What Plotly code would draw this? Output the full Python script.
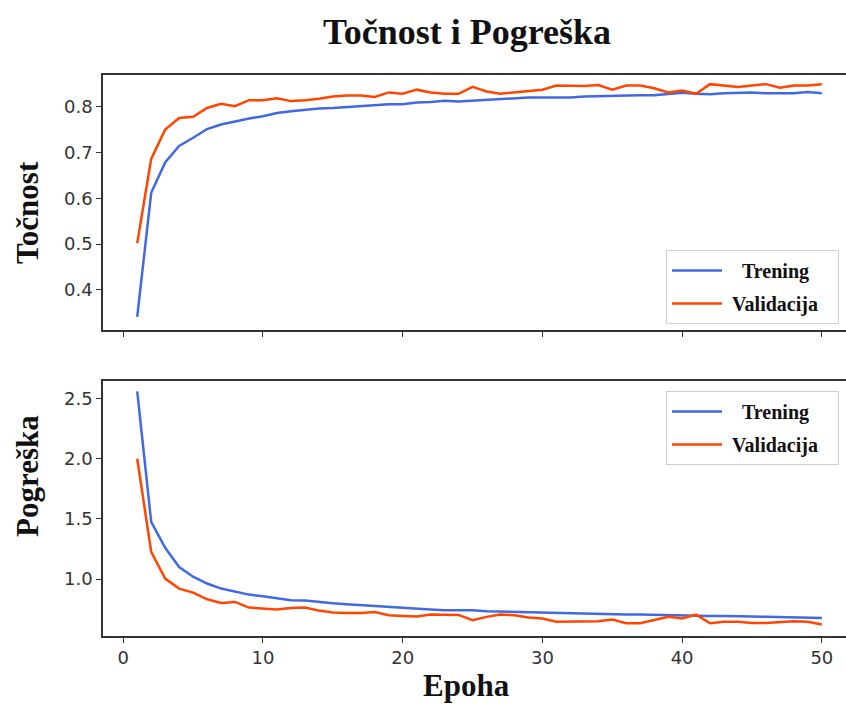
import plotly.graph_objects as go

# epochs on the x axis
epochs = list(range(1, 51))

# accuracy (Točnost)
train_acc = [0.341, 0.612, 0.678, 0.714, 0.732, 0.751, 0.761, 0.768, 0.774, 0.779,
             0.786, 0.790, 0.793, 0.796, 0.797, 0.799, 0.802, 0.804, 0.805, 0.805,
             0.809, 0.810, 0.813, 0.811, 0.813, 0.815, 0.816, 0.818, 0.820, 0.820,
             0.820, 0.820, 0.822, 0.823, 0.824, 0.825, 0.825, 0.825, 0.828, 0.830,
             0.828, 0.827, 0.829, 0.830, 0.831, 0.829, 0.829, 0.829, 0.832, 0.829]
val_acc = [0.502, 0.686, 0.750, 0.775, 0.778, 0.797, 0.806, 0.801, 0.814, 0.814,
           0.818, 0.812, 0.814, 0.817, 0.822, 0.824, 0.824, 0.821, 0.831, 0.828,
           0.837, 0.831, 0.828, 0.828, 0.843, 0.833, 0.828, 0.831, 0.835, 0.837,
           0.846, 0.845, 0.845, 0.847, 0.837, 0.846, 0.846, 0.840, 0.831, 0.835,
           0.828, 0.849, 0.846, 0.843, 0.846, 0.849, 0.841, 0.846, 0.846, 0.849]

# loss (Pogreška)
train_loss = [2.56, 1.475, 1.26, 1.10, 1.02, 0.963, 0.921, 0.893, 0.871, 0.857,
              0.838, 0.824, 0.821, 0.807, 0.799, 0.791, 0.783, 0.777, 0.769, 0.763,
              0.749, 0.747, 0.741, 0.741, 0.741, 0.733, 0.730, 0.727, 0.724, 0.719,
              0.716, 0.716, 0.711, 0.708, 0.708, 0.705, 0.705, 0.702, 0.705, 0.697,
              0.697, 0.694, 0.694, 0.689, 0.689, 0.686, 0.683, 0.686, 0.683, 0.677]
val_loss = [2.0, 1.226, 1.004, 0.921, 0.888, 0.832, 0.802, 0.810, 0.763, 0.755,
            0.747, 0.760, 0.763, 0.738, 0.722, 0.719, 0.719, 0.727, 0.700, 0.694,
            0.689, 0.705, 0.705, 0.702, 0.658, 0.686, 0.705, 0.700, 0.680, 0.672,
            0.645, 0.645, 0.650, 0.650, 0.664, 0.633, 0.633, 0.661, 0.686, 0.672,
            0.705, 0.633, 0.645, 0.645, 0.636, 0.636, 0.645, 0.650, 0.645, 0.623]

nb = "\u00a0"
names = [nb * 3 + "Trening", nb + "Validacija" + nb * 3]
blue = "#4169E1"
red = "#FF4500"
W, H = 846, 704

fig = go.Figure()

# top panel - accuracy
fig.add_trace(go.Scatter(x=epochs, y=train_acc, mode="lines", name=names[0],
                         line=dict(color=blue, width=2.5), xaxis="x", yaxis="y",
                         legend="legend", legendgroup="a1"))
fig.add_trace(go.Scatter(x=epochs, y=val_acc, mode="lines", name=names[1],
                         line=dict(color=red, width=2.5), xaxis="x", yaxis="y",
                         legend="legend", legendgroup="a2"))

# bottom panel - loss
fig.add_trace(go.Scatter(x=epochs, y=train_loss, mode="lines", name=names[0],
                         line=dict(color=blue, width=2.5), xaxis="x2", yaxis="y2",
                         legend="legend2", legendgroup="b1"))
fig.add_trace(go.Scatter(x=epochs, y=val_loss, mode="lines", name=names[1],
                         line=dict(color=red, width=2.5), xaxis="x2", yaxis="y2",
                         legend="legend2", legendgroup="b2"))

serif_bold = "Liberation Serif"
tickfont = dict(family="DejaVu Sans", size=18, color="#333")
axis_common = dict(showline=True, linecolor="#333", linewidth=1.5, ticks="outside",
                   ticklen=5, tickcolor="#333", tickwidth=1.2, showgrid=False,
                   zeroline=False, tickfont=tickfont, automargin=False)

xrange_ = [-1.45, 51.73]
xdom = [103 / W, 1.0]
label_font = dict(family=serif_bold, size=31, color="#111")

legend_common = dict(xanchor="left", yanchor="top", bgcolor="white",
                     bordercolor="#d0d0d0", borderwidth=1,
                     font=dict(family=serif_bold, size=20, color="#111", weight="bold"),
                     traceorder="grouped", tracegroupgap=4, itemwidth=50)

fig.update_layout(
    width=W, height=H,
    margin=dict(l=0, r=0, t=0, b=0),
    paper_bgcolor="white", plot_bgcolor="white",
    title=dict(text="<b>Točnost i Pogreška</b>", x=467 / W, xanchor="center",
               y=1 - 31 / H, yanchor="middle",
               font=dict(family=serif_bold, size=36, color="#111")),
    xaxis=dict(domain=xdom, range=xrange_, anchor="y", mirror=True,
               tickvals=[0, 10, 20, 30, 40, 50], showticklabels=False, **axis_common),
    yaxis=dict(domain=[1 - 330 / H, 1 - 75 / H], range=[0.3124, 0.869], anchor="x",
               tickvals=[0.4, 0.5, 0.6, 0.7, 0.8], tickformat=".1f", mirror=False,
               **axis_common),
    xaxis2=dict(domain=xdom, range=xrange_, anchor="y2", mirror=True,
                tickvals=[0, 10, 20, 30, 40, 50], **axis_common),
    yaxis2=dict(domain=[1 - 636 / H, 1 - 381 / H], range=[0.527, 2.646], anchor="x2",
                tickvals=[1.0, 1.5, 2.0, 2.5], tickformat=".1f", mirror=False,
                **axis_common),
    legend=dict(x=666 / W, y=1 - 250 / H, **legend_common),
    legend2=dict(x=666 / W, y=1 - 391 / H, **legend_common),
    showlegend=True,
)

# axis titles placed as in the reference
fig.add_annotation(text="<b>Točnost</b>", x=27 / W, y=1 - 212 / H, xref="paper",
                   yref="paper", textangle=-90, showarrow=False, font=label_font,
                   xanchor="center", yanchor="middle")
fig.add_annotation(text="<b>Pogreška</b>", x=27 / W, y=1 - 476 / H, xref="paper",
                   yref="paper", textangle=-90, showarrow=False, font=label_font,
                   xanchor="center", yanchor="middle")
fig.add_annotation(text="<b>Epoha</b>", x=467 / W, y=0, xref="paper",
                   yref="paper", showarrow=False, font=label_font,
                   xanchor="center", yanchor="bottom", borderpad=0)

# drop the browser's default page margin so the figure fills the window
fig.write_html("out.html", post_script="document.body.style.margin = '0';",
               config={"displayModeBar": False})
